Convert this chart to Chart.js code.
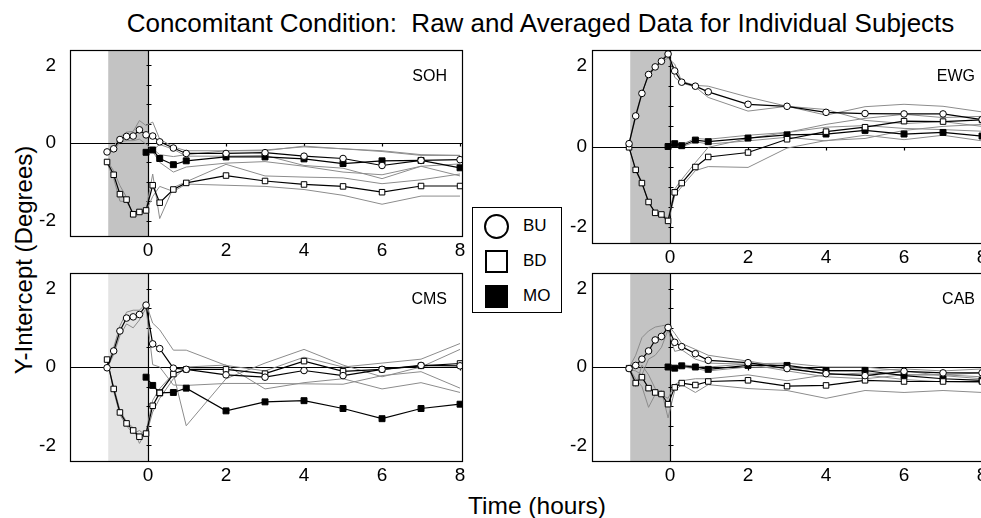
<!DOCTYPE html>
<html lang="en">
<head>
<meta charset="UTF-8" />
<title>Concomitant Condition</title>
<script src="https://cdn.jsdelivr.net/npm/chart.js"></script>
<style>
  body { margin: 0; width: 981px; height: 518px; overflow: hidden; background: #fff;
         position: relative; font-family: Arial, "Liberation Sans", sans-serif; color: #000; }
  .panel { position: absolute; }
  #title { position: absolute; left: 0; width: 1081px; top: 10px; text-align: center;
           font-size: 26px; line-height: 26px; white-space: pre; }
  #xlabel { position: absolute; left: 387px; width: 300px; top: 494px; text-align: center;
            font-size: 24.5px; line-height: 24.5px; }
  #ylabel { position: absolute; left: -126px; width: 300px; top: 248px; text-align: center;
            font-size: 24px; line-height: 24px; transform: rotate(-90deg); }
  #legend { position: absolute; left: 472px; top: 207px; width: 88px; height: 104px;
            border: 1px solid #000; background: #fff; }
  #legend .sym { position: absolute; left: 11px; box-sizing: border-box; }
  #legend .txt { position: absolute; left: 50px; font-size: 17px; line-height: 20px; }
</style>
</head>
<body>
<div id="title">Concomitant Condition:  Raw and Averaged Data for Individual Subjects</div>
<div id="ylabel">Y-Intercept (Degrees)</div>
<div id="xlabel">Time (hours)</div>
<div id="legend">
  <div class="sym" style="top:6px;width:25px;height:25px;border:2px solid #000;border-radius:50%;"></div>
  <div class="txt" style="top:8px;">BU</div>
  <div class="sym" style="top:42px;left:12px;width:23px;height:23px;border:2px solid #000;"></div>
  <div class="txt" style="top:43px;">BD</div>
  <div class="sym" style="top:77px;left:12px;width:23px;height:23px;background:#000;"></div>
  <div class="txt" style="top:78px;">MO</div>
</div>

<script>
// time points (hours); MO starts at the end of the exposure period
const times = [-1.05, -0.88, -0.72, -0.55, -0.38, -0.22, -0.05, 0.12, 0.3, 0.65, 0.98, 2, 3, 4, 5, 6, 7, 8];
const timesMO = [-0.05, 0.12, 0.3, 0.65, 0.98, 2, 3, 4, 5, 6, 7, 8];
const xTicks = [0, 2, 4, 6, 8];
const yTicks = [-2, 0, 2];
const zeroTicksY = [-2, -1.5, -1, -0.5, 0.5, 1, 1.5, 2];
const zeroTicksX = [2, 4, 6, 8];
const shadeRange = [-1.02, 0];

// SOH
const sohBU = [-0.23, -0.15, 0.09, 0.17, 0.18, 0.34, 0.21, 0.18, 0.03, -0.13, -0.27, -0.27, -0.25, -0.34, -0.40, -0.58, -0.45, -0.43];
const sohRawBU = [
  [-0.25, -0.08, 0.15, 0.28, 0.30, 0.58, 0.45, 0.54, 0.10, -0.10, -0.20, -0.20, -0.18, -0.10, -0.15, -0.22, -0.32, -0.32],
  [-0.20, -0.22, 0.03, 0.06, 0.06, 0.10, -0.03, -0.18, -0.04, -0.16, -0.34, -0.34, -0.32, -0.58, -0.65, -0.92, -0.60, -0.54]
];
const sohBD = [-0.49, -0.82, -1.32, -1.46, -1.84, -1.78, -1.74, -1.09, -1.54, -1.20, -1.03, -0.84, -0.98, -1.07, -1.12, -1.27, -1.11, -1.11];
const sohRawBD = [
  [-0.45, -0.72, -1.10, -1.40, -1.90, -1.82, -1.72, -0.80, -1.95, -1.15, -1.00, -0.55, -0.85, -0.88, -0.90, -1.05, -0.95, -0.80],
  [-0.52, -0.92, -1.50, -1.52, -1.80, -1.74, -1.76, -1.38, -1.12, -1.25, -1.06, -1.09, -1.12, -1.20, -1.35, -1.58, -1.37, -1.37]
];
const sohMO = [-0.24, -0.18, -0.40, -0.56, -0.46, -0.36, -0.36, -0.41, -0.53, -0.46, -0.45, -0.64];
const sohRawMO = [
  [-0.20, -0.15, -0.30, -0.35, -0.30, -0.20, -0.20, -0.08, -0.15, -0.20, -0.30, -0.32],
  [-0.28, -0.22, -0.50, -0.75, -0.62, -0.52, -0.48, -0.60, -0.75, -0.82, -0.60, -0.85]
];

// EWG
const ewgBU = [0.07, 0.76, 1.32, 1.79, 1.98, 2.12, 2.30, 1.88, 1.60, 1.50, 1.36, 1.05, 1.00, 0.85, 0.82, 0.81, 0.81, 0.67];
const ewgRawBU = [
  [0.05, 0.72, 1.30, 1.82, 2.00, 2.10, 2.20, 2.05, 1.62, 1.52, 1.50, 1.23, 1.00, 0.78, 0.99, 1.05, 1.00, 0.86],
  [0.09, 0.80, 1.34, 1.76, 1.96, 2.14, 2.35, 1.72, 1.58, 1.48, 1.22, 0.88, 1.00, 0.92, 0.65, 0.57, 0.62, 0.50]
];
const ewgBD = [-0.02, -0.58, -0.91, -1.38, -1.65, -1.69, -1.85, -1.14, -0.91, -0.51, -0.26, -0.15, 0.18, 0.37, 0.48, 0.63, 0.62, 0.66];
const ewgRawBD = [
  [-0.02, -0.60, -0.93, -1.36, -1.66, -1.70, -1.90, -1.22, -1.00, -0.60, -0.50, -0.52, -0.04, 0.15, 0.20, 0.40, 0.50, 0.55],
  [-0.02, -0.56, -0.89, -1.40, -1.64, -1.68, -1.80, -1.06, -0.82, -0.40, -0.02, 0.20, 0.35, 0.55, 0.70, 0.80, 0.72, 0.75]
];
const ewgMO = [0.00, 0.07, 0.02, 0.16, 0.12, 0.21, 0.29, 0.31, 0.40, 0.31, 0.35, 0.26];
const ewgRawMO = [
  [0.00, 0.10, 0.05, 0.20, 0.18, 0.28, 0.35, 0.48, 0.52, 0.45, 0.42, 0.38],
  [0.00, 0.04, -0.01, 0.12, 0.06, 0.14, 0.23, 0.14, 0.28, 0.17, 0.28, 0.14]
];

// CMS
const cmsBU = [-0.02, 0.41, 0.92, 1.25, 1.28, 1.34, 1.58, 0.59, 0.47, -0.03, -0.06, -0.20, -0.26, -0.09, -0.22, -0.06, 0.04, 0.03];
const cmsRawBU = [
  [0.00, 0.50, 1.05, 1.40, 1.45, 1.45, 1.62, 1.12, 0.95, 0.43, 0.43, 0.04, -0.10, 0.25, 0.00, 0.10, 0.20, 0.60],
  [-0.04, 0.32, 0.80, 1.10, 1.00, 1.20, 1.50, 0.06, 0.00, -0.46, -0.47, -0.42, -0.42, -0.43, -0.44, -0.22, -0.12, -0.54]
];
const cmsBD = [0.19, -0.56, -1.16, -1.44, -1.62, -1.78, -1.70, -0.99, -0.66, -0.18, -0.06, -0.06, -0.17, 0.15, -0.11, -0.06, 0.03, 0.09];
const cmsRawBD = [
  [0.15, -0.50, -1.10, -1.40, -1.55, -1.95, -1.65, -0.85, -0.55, -0.17, -1.50, -0.30, 0.10, 0.45, 0.05, -0.25, 0.00, 0.45],
  [0.22, -0.62, -1.22, -1.50, -1.70, -1.62, -1.75, -1.15, -0.80, -0.30, 0.00, 0.05, -0.56, -0.40, -0.30, -0.56, -0.40, -0.65]
];
const cmsMO = [-0.26, -0.47, -0.66, -0.65, -0.54, -1.12, -0.89, -0.86, -1.06, -1.32, -1.06, -0.95];
const cmsRawMO = [];

// CAB
const cabBU = [-0.04, 0.04, 0.20, 0.41, 0.69, 0.78, 1.01, 0.63, 0.52, 0.34, 0.17, 0.11, -0.04, -0.17, -0.22, -0.11, -0.15, -0.15];
const cabRawBU = [
  [-0.02, 0.30, 0.75, 0.92, 1.02, 1.05, 1.08, 0.86, 0.60, 0.45, 0.30, 0.15, 0.00, -0.10, -0.10, -0.05, -0.10, -0.05],
  [-0.06, -0.10, -0.20, 0.20, 0.30, 0.50, 0.95, 0.40, 0.44, 0.20, 0.10, 0.07, -0.10, -0.25, -0.30, -0.20, -0.20, -0.25]
];
const cabBD = [-0.03, -0.41, -0.26, -0.54, -0.65, -0.69, -0.95, -0.52, -0.41, -0.46, -0.37, -0.34, -0.49, -0.47, -0.34, -0.37, -0.37, -0.37];
const cabRawBD = [
  [-0.03, -0.30, -0.50, -1.03, -0.70, -0.60, -1.30, -0.60, -0.45, -0.65, -0.45, -0.55, -0.60, -0.80, -0.60, -0.65, -0.60, -0.65],
  [-0.03, -0.50, 0.05, -0.20, -0.55, -0.72, -0.80, -0.45, -0.35, -0.30, -0.30, -0.20, -0.35, -0.20, -0.15, -0.20, -0.20, -0.15]
];
const cabMO = [0.00, -0.03, 0.03, 0.00, -0.06, 0.04, 0.04, -0.09, -0.09, -0.22, -0.30, -0.34];
const cabRawMO = [
  [0.00, 0.00, 0.05, 0.03, 0.00, 0.08, 0.10, 0.00, 0.00, -0.10, -0.22, -0.30],
  [0.00, -0.06, 0.00, -0.04, -0.10, 0.00, -0.02, -0.18, -0.20, -0.32, -0.38, -0.40]
];

// layout of each plot area: left, top, width, height (px)
const panels = [
  { name: 'SOH', rect: [70, 50, 392, 186], shade: '#c3c3c3', yPad: 14, labelGap: 15,
    BU: sohBU, BD: sohBD, MO: sohMO, rawBU: sohRawBU, rawBD: sohRawBD, rawMO: sohRawMO },
  { name: 'EWG', rect: [592, 50, 392, 193], shade: '#c3c3c3', yPad: 5, labelGap: 9,
    BU: ewgBU, BD: ewgBD, MO: ewgMO, rawBU: ewgRawBU, rawBD: ewgRawBD, rawMO: ewgRawMO },
  { name: 'CMS', rect: [70, 273, 392, 188], shade: '#e4e4e4', yPad: 14, labelGap: 15,
    BU: cmsBU, BD: cmsBD, MO: cmsMO, rawBU: cmsRawBU, rawBD: cmsRawBD, rawMO: cmsRawMO },
  { name: 'CAB', rect: [592, 273, 392, 188], shade: '#c3c3c3', yPad: 5, labelGap: 9,
    BU: cabBU, BD: cabBD, MO: cabMO, rawBU: cabRawBU, rawBD: cabRawBD, rawMO: cabRawMO }
];

// PT / XH must exceed the y axis label half-height + tick padding, or Chart.js grows them
const YW = 40, PT = 30, PR = 12, XH = 30;
const toXY = (t, v) => t.map((x, i) => ({ x: x, y: v[i] }));

function rawSet(t, v) {
  return { data: toXY(t, v), borderColor: '#8c8c8c', borderWidth: 1, pointRadius: 0, order: 2 };
}

function avgSet(t, v, style, r, fill) {
  return {
    data: toXY(t, v), borderColor: '#000', borderWidth: 1.2, order: 1,
    pointStyle: style, pointRadius: r, pointBackgroundColor: fill,
    pointBorderColor: '#000', pointBorderWidth: 1
  };
}

const panelPlugin = {
  id: 'panelDeco',
  beforeDatasetsDraw(chart, args, opts) {
    const { ctx, chartArea: a, scales: { x, y } } = chart;
    const x0 = Math.round(x.getPixelForValue(0)) + 0.5;
    const y0 = Math.round(y.getPixelForValue(0)) + 0.5;
    ctx.save();
    ctx.fillStyle = opts.shade;
    const s0 = x.getPixelForValue(shadeRange[0]);
    ctx.fillRect(s0, a.top, x.getPixelForValue(shadeRange[1]) - s0, a.bottom - a.top);
    ctx.strokeStyle = '#000';
    ctx.lineWidth = 1.2;
    ctx.beginPath();
    ctx.moveTo(a.left, y0); ctx.lineTo(a.right, y0);
    ctx.moveTo(x0, a.top); ctx.lineTo(x0, a.bottom);
    zeroTicksY.forEach(v => {
      const py = Math.round(y.getPixelForValue(v)) + 0.5;
      ctx.moveTo(x0 - 2, py); ctx.lineTo(x0 + 3, py);
    });
    zeroTicksX.forEach(v => {
      const px = Math.round(x.getPixelForValue(v)) + 0.5;
      ctx.moveTo(px, y0); ctx.lineTo(px, y0 + 3);
    });
    ctx.stroke();
    ctx.restore();
  },
  afterDraw(chart, args, opts) {
    const { ctx, chartArea: a } = chart;
    ctx.save();
    ctx.strokeStyle = '#000';
    ctx.lineWidth = 1.2;
    ctx.strokeRect(Math.round(a.left) + 0.5, Math.round(a.top) + 0.5,
      Math.round(a.right - a.left), Math.round(a.bottom - a.top));
    ctx.fillStyle = '#000';
    ctx.font = '16px Arial, "Liberation Sans", sans-serif';
    ctx.textAlign = 'right';
    ctx.textBaseline = 'middle';
    ctx.fillText(opts.name, a.right - opts.labelGap, a.top + 27);
    ctx.restore();
  }
};

panels.forEach(p => {
  const [left, top, w, h] = p.rect;
  const wrap = document.createElement('div');
  wrap.className = 'panel';
  wrap.style.left = (left - YW) + 'px';
  wrap.style.top = (top - PT) + 'px';
  const canvas = document.createElement('canvas');
  canvas.width = YW + w + PR;
  canvas.height = PT + h + XH;
  wrap.appendChild(canvas);
  document.body.appendChild(wrap);

  const datasets = [
    avgSet(times, p.BU, 'circle', 3.3, '#fff'),
    avgSet(times, p.BD, 'rect', 3.9, '#fff'),
    avgSet(timesMO, p.MO, 'rect', 4.2, '#000')
  ];
  p.rawBU.forEach(r => datasets.push(rawSet(times, r)));
  p.rawBD.forEach(r => datasets.push(rawSet(times, r)));
  p.rawMO.forEach(r => datasets.push(rawSet(timesMO, r)));

  new Chart(canvas, {
    type: 'line',
    data: { datasets: datasets },
    plugins: [panelPlugin],
    options: {
      responsive: false,
      animation: false,
      events: [],
      layout: { padding: { top: PT, right: PR, left: 0, bottom: 0 } },
      plugins: {
        legend: { display: false },
        tooltip: { enabled: false },
        panelDeco: { shade: p.shade, name: p.name, labelGap: p.labelGap }
      },
      scales: {
        x: {
          type: 'linear', min: -2, max: 8.05,
          grid: { display: false, drawTicks: false },
          border: { display: false },
          afterBuildTicks: s => { s.ticks = xTicks.map(v => ({ value: v })); },
          afterFit: s => { s.height = XH; },
          ticks: { color: '#000', padding: 3, maxRotation: 0,
                   font: { size: 19, family: 'Arial, "Liberation Sans", sans-serif' } }
        },
        y: {
          type: 'linear', min: -2.4, max: 2.4,
          grid: { display: false, drawTicks: false },
          border: { display: false },
          afterBuildTicks: s => { s.ticks = yTicks.map(v => ({ value: v })); },
          afterFit: s => { s.width = YW; },
          ticks: { color: '#000', padding: p.yPad,
                   font: { size: 19, family: 'Arial, "Liberation Sans", sans-serif' } }
        }
      }
    }
  });
});
</script>
</body>
</html>
